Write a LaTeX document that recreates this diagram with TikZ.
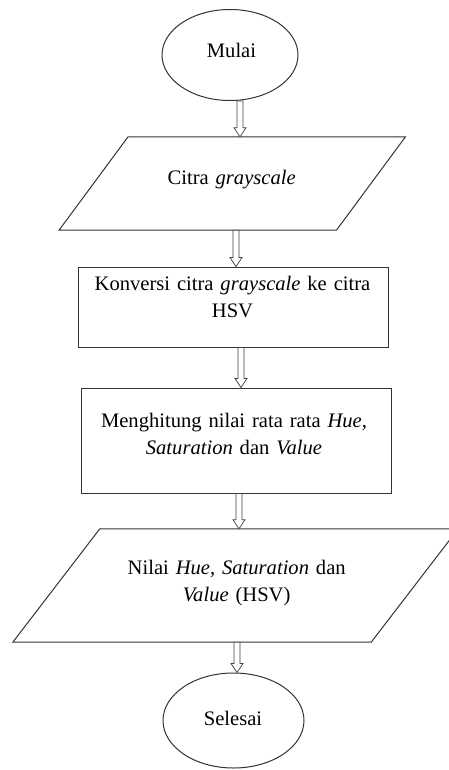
\documentclass[tikz,border=0pt]{standalone}
\usepackage{fontspec}
\setmainfont{Liberation Serif}
\usetikzlibrary{shapes.geometric,calc}
\begin{document}
\begin{tikzpicture}[x=1pt,y=-1pt,
  shapeline/.style={draw=black!80, line width=1pt},
  term/.style={shapeline, ellipse, inner sep=0},
  procbox/.style={shapeline, rectangle, inner sep=0},
  frame/.style={inner sep=0, draw=none, rectangle},
  lbl/.style={inner sep=0, anchor=base, text width=340pt, align=center,
    font=\fontsize{20.6}{27}\selectfont},
  harrow/.style={draw=black!75, line width=0.7pt, fill=white,
    to path={let \p1=(\tikztostart), \p2=(\tikztotarget) in
      (\x1-3pt,\y1) -- (\x1-3pt,\y2+9pt) -- (\x1-6pt,\y2+9pt) -- (\x1,\y2)
      -- (\x1+6pt,\y2+9pt) -- (\x1+3pt,\y2+9pt) -- (\x1+3pt,\y1) -- cycle}}
]
\useasboundingbox (0,0) rectangle (449,770);
\clip (0,0) rectangle (449,770);

% shapes
\node[term, minimum width=136pt, minimum height=91pt] (mulai) at (230,55) {};
\node[frame, minimum width=346pt, minimum height=93pt] (in) at (232.25,183.5) {};
\draw[shapeline] ([xshift=69pt]in.north west) -- (in.north east)
  -- ([xshift=-69pt]in.south east) -- (in.south west) -- cycle;
\node[procbox, minimum width=310pt, minimum height=80pt] (konv) at (233,307) {};
\node[procbox, minimum width=310pt, minimum height=105pt] (hit) at (236,440.5) {};
\node[frame, minimum width=445pt, minimum height=113pt] (out) at (235.5,585.5) {};
\draw[shapeline] ([xshift=87pt]out.north west) -- (out.north east)
  -- ([xshift=-87pt]out.south east) -- (out.south west) -- cycle;
\node[term, minimum width=141pt, minimum height=95pt] (selesai) at (233.5,720.5) {};

% texts
\node[lbl] (t1) at (231.5,58) {Mulai};
\node[lbl] (t2) at (231.7,184) {Citra \textit{grayscale}};
\node[lbl] (t3) at (232.5,290) {Konversi citra \textit{grayscale} ke citra\\HSV};
\node[lbl] (t4) at (234,427) {Menghitung nilai rata rata \textit{Hue,}\\\textit{Saturation} dan \textit{Value}};
\node[lbl] (t5) at (236.7,574) {Nilai \textit{Hue, Saturation} dan\\\textit{Value} (HSV)};
\node[lbl] (t6) at (233,725) {Selesai};

% connectors
\draw[harrow] ([xshift=10pt]mulai.south) to ([xshift=10pt]mulai.south |- in.north);
\draw[harrow] ([xshift=3.75pt]in.south) to ([xshift=3.75pt]in.south |- konv.north);
\draw[harrow] ([xshift=8pt]konv.south) to ([xshift=8pt]konv.south |- hit.north);
\draw[harrow] ([xshift=3pt]hit.south) to ([xshift=3pt]hit.south |- out.north);
\draw[harrow] ([xshift=1.5pt]out.south) to ([xshift=1.5pt]out.south |- selesai.north);
\end{tikzpicture}
\end{document}
